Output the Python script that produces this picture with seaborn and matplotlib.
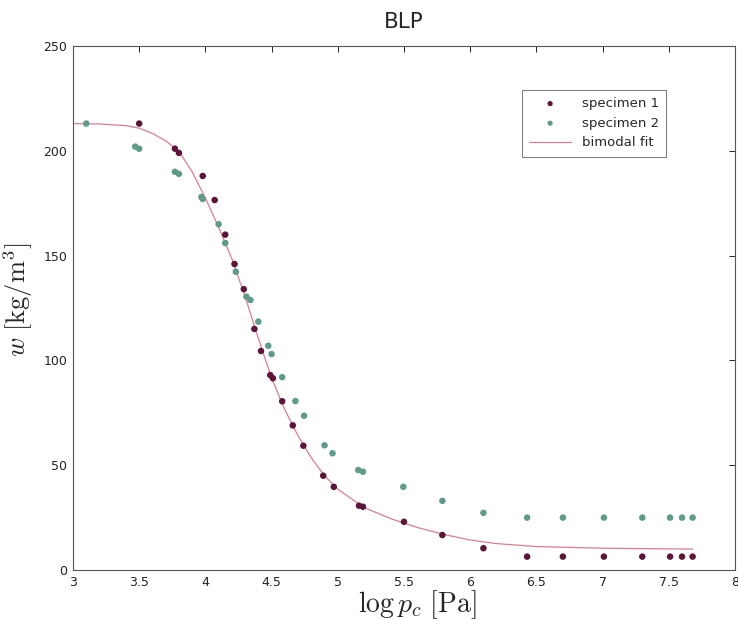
import matplotlib
matplotlib.use("Agg")
import matplotlib.pyplot as plt
import seaborn as sns
import pandas as pd

# --- data ---
s1_x = [3.50, 3.77, 3.80, 3.98, 4.07, 4.15, 4.22, 4.29, 4.37, 4.42, 4.49, 4.51,
        4.58, 4.66, 4.74, 4.89, 4.97, 5.16, 5.19, 5.50, 5.79, 6.10, 6.43, 6.70,
        7.01, 7.30, 7.51, 7.60, 7.68]
s1_y = [213, 201, 199, 188, 176.5, 160, 146, 134, 115, 104.5, 93, 91.5,
        80.5, 69, 59.3, 45, 39.7, 30.7, 30.2, 23, 16.7, 10.4, 6.4, 6.4,
        6.4, 6.4, 6.4, 6.4, 6.4]

s2_x = [3.10, 3.47, 3.50, 3.77, 3.80, 3.97, 3.98, 4.10, 4.15, 4.23, 4.31, 4.34,
        4.40, 4.475, 4.50, 4.58, 4.68, 4.745, 4.90, 4.96, 5.155, 5.19, 5.495,
        5.79, 6.10, 6.43, 6.70, 7.01, 7.30, 7.51, 7.60, 7.68]
s2_y = [213, 202, 201, 190, 189, 178, 177, 165, 156, 142.3, 130.4, 128.8,
        118.5, 107, 103, 92, 80.6, 73.6, 59.5, 55.7, 47.7, 46.9, 39.7,
        33, 27.3, 25, 25, 25, 25, 25, 25, 25]

fit_x = [3.0, 3.2, 3.4, 3.5, 3.6, 3.7, 3.8, 3.9, 4.0, 4.1, 4.2, 4.3, 4.4, 4.5,
         4.6, 4.7, 4.8, 4.9, 5.0, 5.2, 5.4, 5.6, 5.8, 6.0, 6.2, 6.5, 7.0, 7.5, 7.68]
fit_y = [213.0, 212.8, 212.0, 210.8, 208.3, 204.8, 199.8, 190.0, 177.5, 163.5,
         148.5, 130.5, 110.5, 91.5, 76.5, 64.0, 53.5, 45.0, 38.5, 29.8, 24.5,
         20.3, 17.0, 14.3, 12.6, 11.2, 10.4, 10.1, 10.0]

x_ticks = [3, 3.5, 4, 4.5, 5, 5.5, 6, 6.5, 7, 7.5, 8]
x_ticklabels = ["3", "3.5", "4", "4.5", "5", "5.5", "6", "6.5", "7", "7.5", "8"]
y_ticks = [0, 50, 100, 150, 200, 250]

sns.set_theme(style="white")
plt.rcParams["font.family"] = ["DejaVu Sans"]
plt.rcParams["mathtext.fontset"] = "cm"

fig = plt.figure(figsize=(7.38, 6.2), dpi=100)
ax = fig.add_axes([0.0989, 0.0806, 0.897, 0.8452])

df1 = pd.DataFrame({"x": s1_x, "y": s1_y})
df2 = pd.DataFrame({"x": s2_x, "y": s2_y})
dff = pd.DataFrame({"x": fit_x, "y": fit_y})

sns.scatterplot(data=df1, x="x", y="y", ax=ax, color="#5c1538", s=22,
                edgecolor="none", label="specimen 1", zorder=3)
sns.scatterplot(data=df2, x="x", y="y", ax=ax, color="#5f9b8b", s=22,
                edgecolor="none", label="specimen 2", zorder=3)
sns.lineplot(data=dff, x="x", y="y", ax=ax, color="#d87f92", lw=0.9,
             label="bimodal fit", zorder=2, sort=False)

ax.set_xlim(3, 8)
ax.set_ylim(0, 250)
ax.set_xticks(x_ticks)
ax.set_xticklabels(x_ticklabels)
ax.set_yticks(y_ticks)
ax.tick_params(direction="in", top=True, right=True, length=4, width=0.7,
               labelsize=9, colors="#222222", pad=4)
for sp in ax.spines.values():
    sp.set_color("#555555")
    sp.set_linewidth(0.8)

ax.set_xlabel(r"$\log p_c\ [\mathrm{Pa}]$", fontsize=20)
ax.xaxis.set_label_coords(0.52, -0.035, transform=ax.transAxes)
ax.xaxis.label.set_va("top")
ax.set_ylabel(r"$w\ [\mathrm{kg/m}^3]$", fontsize=19)
ax.yaxis.set_label_coords(-0.058, 0.515, transform=ax.transAxes)
ax.set_title("BLP", fontsize=15.5, pad=13)

leg = ax.legend(loc="upper right", bbox_to_anchor=(0.906, 0.929), fontsize=9.5,
                frameon=True, fancybox=False, edgecolor="#555555",
                handlelength=3.2, borderpad=0.55, labelspacing=0.5,
                markerscale=0.8)
leg.get_frame().set_linewidth(0.7)

fig.savefig("out.png", dpi=100)
